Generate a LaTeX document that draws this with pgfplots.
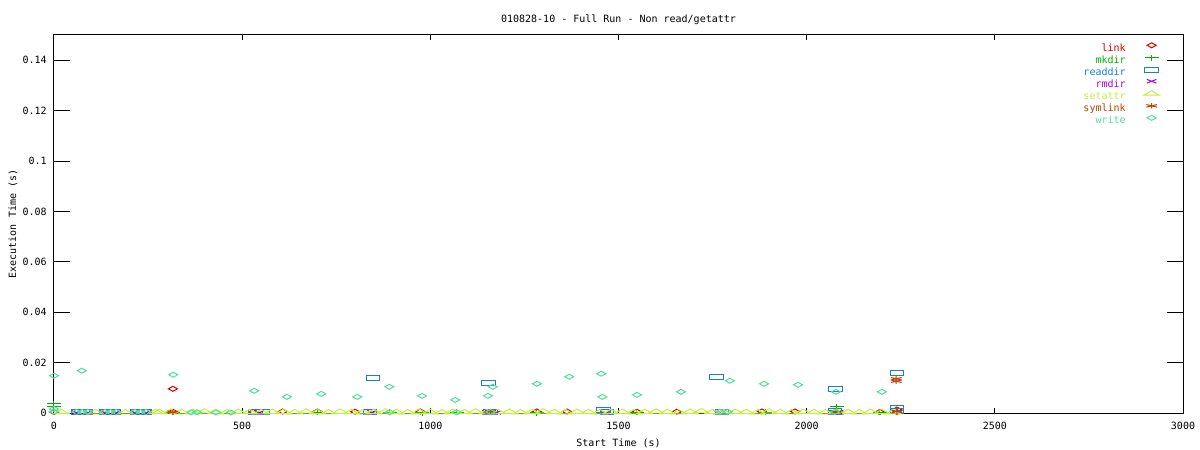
\documentclass[border=0pt]{standalone}
\usepackage{fontspec}
\setmainfont{DejaVu Sans Mono}
\usepackage{pgfplots}
\pgfplotsset{compat=1.18}

\definecolor{cLink}{HTML}{D00000}
\definecolor{cMkdir}{HTML}{00B000}
\definecolor{cReaddir}{HTML}{1A80C8}
\definecolor{cRmdir}{HTML}{B000D0}
\definecolor{cSetattr}{HTML}{C0F040}
\definecolor{cSymlink}{HTML}{C04000}
\definecolor{cWrite}{HTML}{50E098}

\begin{document}
\begin{tikzpicture}[font=\fontsize{5}{6}\selectfont]
\begin{axis}[
  at={(0,0)}, anchor=south west,
  scale only axis, width=564.5pt, height=189pt,
  xmin=0, xmax=3000, ymin=0, ymax=0.15,
  xtick={0,500,...,3000},
  ytick={0,0.02,0.04,0.06,0.08,0.1,0.12,0.14},
  scaled y ticks=false,
  yticklabel style={/pgf/number format/fixed, /pgf/number format/precision=2},
  /pgf/number format/1000 sep={},
  /pgf/number format/assume math mode=true,
  tick align=inside,
  xtick style={/pgfplots/major tick length=2.5pt, line width=0.5pt, black},
  ytick style={/pgfplots/major tick length=8pt, line width=0.5pt, black},
  axis line style={line width=0.5pt},
  xticklabel style={inner sep=0pt, anchor=north, yshift=-4.5pt},
  yticklabel style={inner sep=0pt, anchor=east, xshift=-3.5pt},
  title={010828-10 - Full Run - Non read/getattr},
  title style={at={(axis description cs:0.5,1.008)}, anchor=center, yshift=0pt, inner sep=0pt},
  xlabel={Start Time (s)},
  xlabel style={at={(axis description cs:0.5,-0.0794)}, anchor=center, inner sep=0pt},
  ylabel={Execution Time (s)},
  ylabel style={at={(axis description cs:-0.0363,0.5)}, anchor=center, inner sep=0pt},
  legend plot pos=right,
  legend cell align=right,
  legend style={draw=none, fill=none, at={(axis description cs:0.9903,0.991)},
    anchor=north east, column sep=0pt, row sep=0.8pt,
    nodes={inner sep=0pt, text height=3.5pt, text depth=1pt}},
  legend image code/.code={\path[draw=none] (0pt,0pt) -- (20pt,0pt);
    \draw[#1] plot coordinates {(13pt,1.7pt)};},
  every axis plot/.append style={only marks, line width=0.5pt},
]
% link
\addplot[color=cLink, mark=diamond, mark size=1.25pt, mark options={xscale=2.4, draw=cLink}] coordinates {
  (0,0.0004)(316,0.0096)(316,0.0005)(530,0.0004)(608,0.0006)(700,0.0006)
  (800,0.0005)(973,0.0006)(1283,0.0006)(1363,0.0006)(1549,0.0005)(1655,0.0005)
  (1881,0.0006)(1969,0.0006)(2194,0.0004)(2240,0.0014)(2240,0.0004)
};
\addlegendentry{\textcolor{cLink}{link}}
% mkdir
\addplot[color=cMkdir, mark=+, mark size=1.5pt, mark options={xscale=2.3, draw=cMkdir}] coordinates {
  (0,0.0036)(0,0.0026)(316,0.0002)(700,0.0002)(892,0.0002)(978,0.0001)
  (1070,0.0002)(1283,0.0001)(1549,0.0002)(1890,0.0002)(2078,0.0008)
  (2080,0.0024)(2194,0.0003)
};
\addlegendentry{\textcolor{cMkdir}{mkdir}}
% readdir
\addplot[color=cReaddir, mark=square, mark size=1.3pt, mark options={xscale=2.6, draw=cReaddir}] coordinates {
  (65,0.0003)(85,0.0003)(140,0.0003)(160,0.0003)(220,0.0003)(240,0.0003)
  (535,0.0004)(555,0.0003)(840,0.0003)(848,0.0140)(1154,0.0120)(1160,0.0003)
  (1460,0.0012)(1470,0.0004)(1761,0.0144)(1775,0.0004)(2075,0.0006)
  (2076,0.0096)(2240,0.0160)(2240,0.0020)(2240,0.0008)
};
\addlegendentry{\textcolor{cReaddir}{readdir}}
% rmdir
\addplot[color=cRmdir, mark=x, mark size=1.3pt, mark options={xscale=2.6, draw=cRmdir}] coordinates {
  (60,0.0002)(90,0.0002)(135,0.0002)(165,0.0002)(215,0.0002)(245,0.0002)
  (545,0.0002)(845,0.0003)(1150,0.0003)(1175,0.0002)(1465,0.0001)
  (1765,0.0003)(2070,0.0002)(2085,0.0002)
};
\addlegendentry{\textcolor{cRmdir}{rmdir}}
% setattr
\addplot[color=cSetattr, mark=triangle, mark size=1.5pt, mark options={xscale=3, draw=cSetattr}] coordinates {
  (20,0.0003)(110,0.0002)(190,0.0002)(270,0.0003)
  (280,0.0003)(310,0.0004)(340,0.0002)(370,0.0003)(400,0.0005)(430,0.0003)
  (460,0.0002)(490,0.0004)(520,0.0003)(550,0.0002)(580,0.0004)(610,0.0003)
  (640,0.0002)(670,0.0005)(700,0.0003)(730,0.0002)(760,0.0004)(790,0.0003)
  (820,0.0002)(850,0.0003)(880,0.0005)(910,0.0003)(940,0.0002)(970,0.0004)
  (1000,0.0003)(1030,0.0002)(1060,0.0004)(1090,0.0003)(1120,0.0005)(1150,0.0002)
  (1180,0.0003)(1210,0.0004)(1240,0.0002)(1270,0.0003)(1300,0.0005)(1330,0.0003)
  (1360,0.0002)(1390,0.0004)(1420,0.0003)(1450,0.0002)(1480,0.0003)(1510,0.0004)
  (1540,0.0002)(1570,0.0003)(1600,0.0005)(1630,0.0003)(1660,0.0002)(1690,0.0004)
  (1720,0.0006)(1750,0.0003)(1780,0.0002)(1810,0.0004)(1840,0.0003)(1870,0.0002)
  (1900,0.0005)(1930,0.0003)(1960,0.0002)(1990,0.0004)(2020,0.0003)(2050,0.0002)
  (2080,0.0004)(2110,0.0003)(2140,0.0002)(2170,0.0004)(2200,0.0003)(2230,0.0002)
};
\addlegendentry{\textcolor{cSetattr}{setattr}}
% symlink
\addplot[color=cSymlink, mark=asterisk, mark size=1.3pt, mark options={xscale=2.4, draw=cSymlink}] coordinates {
  (316,0.0003)(1160,0.0005)(2080,0.0003)(2238,0.0136)(2238,0.0126)(2240,0.0006)
};
\addlegendentry{\textcolor{cSymlink}{symlink}}
% write
\addplot[color=cWrite, mark=diamond, mark size=1.25pt, mark options={xscale=2.4, draw=cWrite}] coordinates {
  (0,0.0148)(74,0.0168)(317,0.0152)(532,0.0088)(619,0.0064)(710,0.0076)
  (806,0.0064)(891,0.0104)(978,0.0068)(1066,0.0052)(1153,0.0068)(1166,0.0104)
  (1283,0.0116)(1369,0.0144)(1454,0.0156)(1457,0.0064)(1549,0.0072)(1666,0.0084)
  (1796,0.0128)(1887,0.0116)(1977,0.0112)(2078,0.0084)(2200,0.0084)
  (0,0.0016)(0,0.0005)(60,0.0004)(75,0.0004)(90,0.0004)(135,0.0004)(150,0.0004)
  (165,0.0004)(215,0.0004)(230,0.0004)(245,0.0004)(365,0.0003)(380,0.0003)
  (430,0.0002)(470,0.0002)(892,0.0003)(1070,0.0003)(1160,0.0004)(1770,0.0005)
  (1790,0.0005)(2075,0.0004)
};
\addlegendentry{\textcolor{cWrite}{write}}
\end{axis}
\pgfresetboundingbox
\path[use as bounding box] (-27pt,-18.5pt) rectangle (573pt,206.5pt);
\end{tikzpicture}
\end{document}
